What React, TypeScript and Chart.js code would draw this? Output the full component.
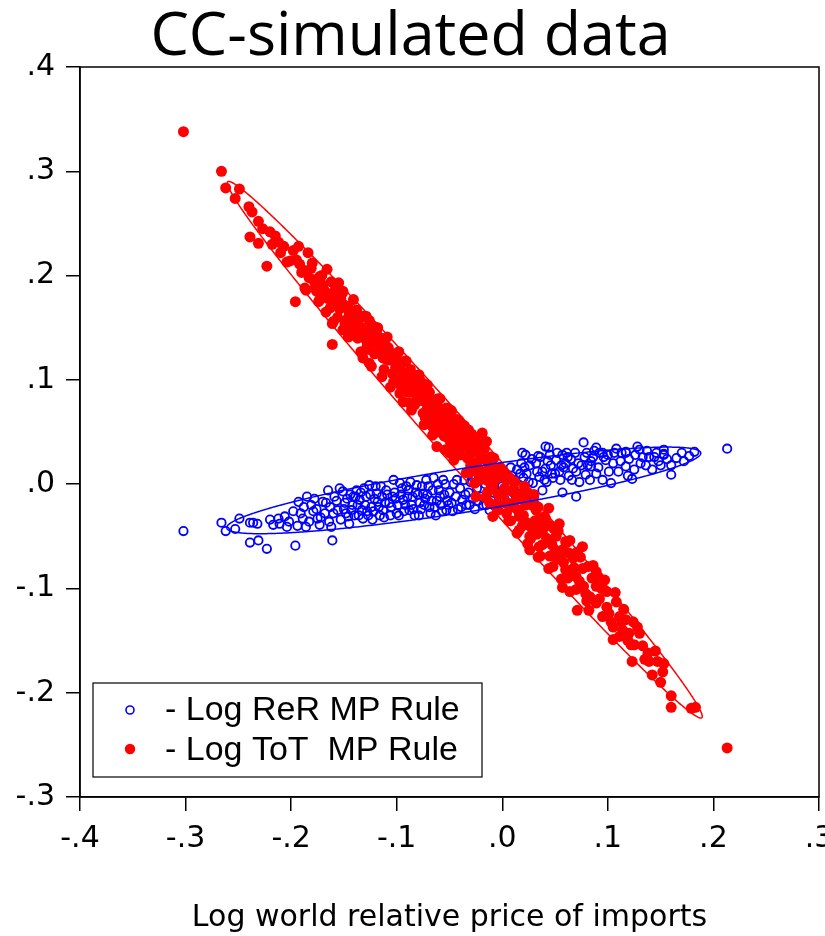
import React, { useEffect, useRef } from "react";
import { Chart, registerables } from "chart.js";

Chart.register(...registerables);

const TITLE = "CC-simulated data";
const X_TITLE = "Log world relative price of imports";
const X_MIN = -0.4;
const X_MAX = 0.3;
const Y_MIN = -0.3;
const Y_MAX = 0.4;
const TICK_STEP = 0.1;

const RER_LABEL = "- Log ReR MP Rule";
const TOT_LABEL = "- Log ToT  MP Rule";
const BLUE = "#0000FF";
const RED = "#FF0000";

// (log world relative price of imports, - log ReR) under the ReR MP rule
const rerPoints: [number, number][] = [
  [-0.302,-0.045],[-0.266,-0.037],[-0.262,-0.045],[-0.253,-0.043],[-0.249,-0.033],[-0.239,-0.037],[-0.236,-0.037],[-0.232,-0.038],[-0.239,-0.056],[-0.231,-0.054],[-0.223,-0.062],[-0.220,-0.034],[-0.217,-0.039],[-0.212,-0.033],[-0.211,-0.038],[-0.206,-0.031],[-0.204,-0.041],[-0.202,-0.036],[-0.196,-0.059],[-0.193,-0.017],[-0.191,-0.028],[-0.189,-0.033],[-0.186,-0.041],[-0.185,-0.012],[-0.181,-0.020],[-0.179,-0.026],[-0.175,-0.033],[-0.173,-0.039],[-0.170,-0.017],[-0.168,-0.028],[-0.165,-0.006],[-0.163,-0.022],[-0.161,-0.054],[-0.162,-0.041],[-0.159,-0.012],[-0.156,-0.025],[-0.154,-0.004],[-0.151,-0.007],[-0.149,-0.018],[-0.146,-0.031],[-0.143,-0.025],[-0.141,-0.012],
  [-0.138,-0.006],[-0.135,-0.015],[-0.133,-0.025],[-0.132,-0.033],[-0.129,-0.012],[-0.126,-0.001],[-0.124,-0.022],[-0.123,-0.034],[-0.119,-0.009],[-0.118,-0.017],[-0.113,-0.025],[-0.110,-0.006],[-0.107,-0.018],[-0.104,-0.012],[-0.100,-0.028],[-0.097,0.001],[-0.094,-0.015],[-0.091,-0.002],[-0.088,-0.025],[-0.085,-0.012],[-0.081,-0.001],[-0.078,-0.018],[-0.075,-0.009],[-0.072,0.004],[-0.069,-0.022],[-0.066,-0.006],[-0.063,-0.030],[-0.059,-0.012],[-0.056,0.004],[-0.053,-0.025],
  [-0.148,-0.028],[-0.144,-0.010],[-0.140,-0.030],[-0.137,-0.020],[-0.131,-0.004],[-0.128,-0.026],[-0.121,-0.014],[-0.116,-0.030],[-0.115,-0.002],[-0.111,-0.018],[-0.106,-0.030],[-0.102,-0.008],[-0.099,-0.020],[-0.096,-0.010],[-0.093,-0.026],[-0.089,-0.006],[-0.086,-0.020],[-0.083,-0.030],[-0.080,-0.010],[-0.077,-0.024],[-0.073,-0.014],[-0.070,-0.002],[-0.067,-0.016],[-0.064,-0.022],[-0.061,0.000],[-0.058,-0.020],[-0.055,-0.010],[-0.052,-0.016],
  [-0.050,-0.008],[-0.048,-0.018],[-0.046,0.000],[-0.044,-0.012],[-0.042,-0.024],[-0.040,-0.004],[-0.038,-0.015],[-0.036,0.004],[-0.034,-0.020],[-0.032,-0.008],[-0.030,0.002],[-0.028,-0.014],[-0.026,-0.024],[-0.024,-0.004],[-0.022,0.006],[-0.020,-0.012],[-0.018,-0.020],[-0.016,0.000],[-0.014,-0.008],[-0.012,0.010],[-0.010,-0.016],[-0.008,-0.004],[-0.006,0.006],[-0.004,-0.010],[-0.002,0.012],[0.000,-0.002],[0.002,-0.014],[0.004,0.008],[0.006,0.000],[0.008,0.016],[0.010,-0.008],[0.012,0.004],[0.014,0.014],[0.018,0.020],[0.020,0.006],[0.026,0.018],[0.032,0.020],[0.038,0.012],[0.042,0.002],[0.046,0.018],[0.050,0.010],[0.055,0.004],[0.058,0.016],[0.063,0.008],[0.065,0.024],[0.070,0.012],[0.075,0.018],[0.080,0.030],[0.086,0.026],[0.100,0.028],[0.110,0.012],[0.120,0.024],[0.125,0.014],[0.133,0.026],[0.148,0.022],[0.165,0.025],[0.170,0.030],
  [0.022,0.028],[0.034,0.027],[0.044,0.035],[0.061,0.030],[0.077,0.040],[0.089,0.035],[0.095,0.030],[0.108,0.034],[0.117,0.031],[0.128,0.036],[0.130,0.033],[0.139,0.026],[0.146,0.030],[0.153,0.033],[0.153,0.029],[0.160,0.018],[0.160,0.009],[0.177,0.027],[0.182,0.031],[0.213,0.034],[0.123,0.005],[0.142,0.014],[0.136,0.018],[0.117,0.017],[0.112,0.022],[0.105,0.020],[0.103,0.001],[0.095,0.004],[0.089,0.010],[0.084,0.017],[0.079,0.009],[0.073,0.002],[0.070,-0.012],[0.057,-0.008],[0.078,0.026],[0.084,0.022],[0.092,0.030],[0.098,0.023],[0.067,0.015],[0.060,0.020],[0.054,0.012],[0.048,0.006],[0.041,0.015],[0.035,0.007],[0.029,0.001],[0.023,0.010],[0.016,-0.001],[0.038,-0.006],[0.030,-0.012],[0.024,-0.009],[0.051,0.023],[0.045,0.028],[0.057,0.028],[0.117,0.030],[0.153,0.028],[0.019,0.030],[0.041,0.036],[-0.012,-0.025],[0.029,-0.015],
  [-0.198,-0.026],[-0.194,-0.040],[-0.188,-0.022],[-0.183,-0.036],[-0.178,-0.014],[-0.176,-0.024],[-0.172,-0.032],[-0.167,-0.018],[-0.164,-0.036],[-0.160,-0.028],[-0.157,-0.016],[-0.153,-0.034],[-0.150,-0.024],[-0.147,-0.014],[-0.145,-0.038],[-0.142,-0.020],[-0.139,-0.012],[-0.136,-0.030],[-0.134,-0.008],[-0.130,-0.020],[-0.127,-0.030],[-0.125,-0.010],[-0.122,-0.026],[-0.120,-0.002],[-0.117,-0.022],[-0.114,-0.012],[-0.112,-0.032],[-0.109,-0.010],[-0.105,-0.022],[-0.103,0.004],[-0.101,-0.014],[-0.098,-0.030],[-0.095,-0.004],[-0.092,-0.020],[-0.090,-0.012],[-0.087,0.002],[-0.084,-0.024],[-0.082,-0.008],[-0.079,-0.030],[-0.076,-0.002],[-0.074,-0.020],[-0.071,-0.010],[-0.068,-0.028],[-0.065,0.006],[-0.062,-0.016],[-0.060,-0.006],[-0.057,-0.026],[-0.054,0.000],[-0.051,-0.020],[-0.047,-0.026],[-0.043,0.004],[-0.039,-0.022],[-0.035,-0.010],[-0.031,-0.020],[-0.027,0.006],[-0.023,-0.016],[-0.019,0.010],[-0.015,-0.020],[-0.011,0.002],[-0.007,0.014],[-0.003,-0.016],[0.001,0.008],[0.005,-0.006],[0.009,0.008],[0.013,-0.012],[0.017,0.010],[0.021,0.016],[0.025,0.002],[0.028,0.024],[0.033,0.012],[0.036,0.026],[0.040,0.004],[0.043,0.022],[0.047,0.010],[0.052,0.030],[0.056,0.018],[0.062,0.026],[0.066,0.004],[0.069,0.030],[0.072,0.020],[0.081,0.018],[0.083,0.004],[0.087,0.032],[0.091,0.016],[0.096,0.026],[0.101,0.012],[0.106,0.030],[0.113,0.030],[0.119,0.008],[0.126,0.028],[0.131,0.020],[0.137,0.032],[0.144,0.026],[0.150,0.018],[0.156,0.024],[0.172,0.022],
];

// (log world relative price of imports, - log ToT) under the ToT MP rule
const totPoints: [number, number][] = [
  [-0.302,0.338],[-0.266,0.300],[-0.262,0.284],[-0.249,0.283],[-0.253,0.274],[-0.240,0.266],[-0.237,0.261],[-0.231,0.252],[-0.239,0.237],[-0.220,0.242],[-0.231,0.231],[-0.218,0.230],[-0.212,0.232],[-0.207,0.228],[-0.223,0.209],[-0.193,0.228],[-0.184,0.222],[-0.204,0.213],[-0.201,0.214],[-0.192,0.211],[-0.190,0.203],[-0.181,0.207],[-0.166,0.206],[-0.196,0.175],[-0.186,0.186],[-0.179,0.196],[-0.173,0.199],[-0.170,0.191],[-0.162,0.194],[-0.155,0.193],[-0.151,0.184],[-0.174,0.175],[-0.163,0.169],[-0.160,0.183],[-0.138,0.167],[-0.145,0.164],[-0.161,0.154],[-0.151,0.148],[-0.132,0.161],[-0.126,0.157],[-0.135,0.151],[-0.119,0.145],[-0.145,0.142],[-0.161,0.134],[-0.111,0.133],[-0.129,0.138],
  [-0.187,0.188],[-0.173,0.177],[-0.167,0.165],[-0.160,0.156],[-0.149,0.153],[-0.141,0.164],[-0.135,0.148],[-0.132,0.121],[-0.126,0.129],[-0.124,0.113],[-0.113,0.121],[-0.107,0.119],[-0.094,0.117],[-0.104,0.106],[-0.097,0.100],[-0.091,0.106],[-0.097,0.087],[-0.085,0.097],[-0.078,0.100],[-0.088,0.078],[-0.081,0.084],[-0.072,0.087],[-0.069,0.074],[-0.075,0.068],[-0.062,0.078],[-0.053,0.073],[-0.059,0.062],[-0.066,0.055],[-0.053,0.055],[-0.047,0.062],[-0.044,0.049],[-0.062,0.036],[-0.050,0.042],[-0.037,0.046],[-0.034,0.036],[-0.028,0.039],[-0.019,0.049],[-0.015,0.041],[-0.044,0.033],[-0.031,0.030],[-0.022,0.033],[-0.022,0.023],
  [-0.072,0.058],[-0.040,0.049],[-0.050,0.030],[-0.031,0.011],[-0.022,0.014],[-0.015,0.004],[-0.006,0.014],[-0.009,-0.002],[0.004,0.004],[0.001,-0.009],[0.010,-0.007],[0.021,-0.002],[0.013,-0.015],[0.023,-0.018],[-0.009,-0.031],[0.004,-0.028],[0.016,-0.031],[0.032,-0.025],[0.035,-0.034],[0.016,-0.044],[0.029,-0.044],[-0.025,-0.012],[-0.012,-0.018],
  [0.023,-0.037],[0.034,-0.022],[0.044,-0.023],[0.026,-0.050],[0.038,-0.046],[0.026,-0.063],[0.035,-0.060],[0.051,-0.050],[0.060,-0.055],[0.076,-0.060],[0.034,-0.070],[0.045,-0.069],[0.057,-0.063],[0.067,-0.071],[0.048,-0.079],[0.060,-0.082],[0.076,-0.081],[0.070,-0.089],[0.089,-0.084],[0.057,-0.099],[0.070,-0.101],[0.079,-0.105],[0.089,-0.098],[0.094,-0.100],[0.071,-0.121],[0.082,-0.121],[0.089,-0.114],[0.108,-0.113],[0.095,-0.127],[0.101,-0.124],[0.111,-0.127],[0.117,-0.130],[0.105,-0.137],[0.114,-0.140],[0.105,-0.149],[0.111,-0.146],[0.120,-0.143],[0.128,-0.137],[0.130,-0.143],[0.122,-0.154],[0.125,-0.154],[0.123,-0.170],[0.138,-0.162],[0.139,-0.170],[0.147,-0.170],[0.153,-0.172],[0.152,-0.180],[0.142,-0.183],[0.160,-0.203],[0.160,-0.214],[0.179,-0.215],[0.183,-0.214],[0.213,-0.253],
  [-0.122,0.139],[-0.117,0.128],[-0.115,0.140],[-0.110,0.120],[-0.108,0.131],[-0.104,0.124],[-0.101,0.112],[-0.099,0.126],[-0.095,0.108],[-0.092,0.118],[-0.090,0.095],[-0.087,0.110],[-0.084,0.090],[-0.082,0.104],[-0.079,0.092],[-0.076,0.080],[-0.074,0.096],[-0.071,0.073],[-0.069,0.088],[-0.066,0.066],[-0.065,0.080],[-0.062,0.070],[-0.059,0.082],[-0.057,0.058],[-0.056,0.068],[-0.052,0.064],[-0.050,0.052],[-0.048,0.070],[-0.046,0.045],[-0.045,0.056],[-0.042,0.040],[-0.041,0.058],[-0.039,0.036],[-0.038,0.052],[-0.035,0.044],[-0.033,0.025],[-0.032,0.052],[-0.029,0.030],[-0.027,0.020],[-0.026,0.044],[-0.024,0.012],[-0.020,0.026],[-0.018,0.010],[-0.017,0.034],[-0.013,0.018],[-0.011,0.000],[-0.008,0.025],[-0.006,0.005],[-0.004,-0.010],[-0.002,0.016],[0.002,-0.004],[0.005,-0.018],[0.007,0.006],[0.009,-0.022],[0.011,-0.005],[0.015,-0.025],[0.018,-0.010],[0.020,-0.030],[0.024,-0.008],[0.026,-0.040],[0.028,-0.020],[0.031,-0.035],[0.033,-0.048],[0.036,-0.040],[0.040,-0.031],[0.042,-0.052],[0.046,-0.040],[0.050,-0.063],[0.053,-0.045],[0.055,-0.070],[0.058,-0.075],[0.063,-0.066],[0.065,-0.085],[0.073,-0.093],[0.085,-0.090],[0.080,-0.112],[0.099,-0.118],[0.115,-0.120],
  [-0.158,0.175],[-0.154,0.168],[-0.150,0.172],[-0.147,0.158],[-0.143,0.150],[-0.140,0.155],[-0.137,0.140],[-0.134,0.160],[-0.130,0.146],[-0.128,0.132],[-0.124,0.150],[-0.120,0.136],[-0.168,0.185],[-0.177,0.190],[-0.183,0.198],[-0.195,0.215],[-0.210,0.222],[-0.215,0.238],[-0.227,0.245],
  [-0.198,0.224],[-0.188,0.205],[-0.180,0.212],[-0.176,0.185],[-0.171,0.200],[-0.165,0.178],[-0.158,0.188],[-0.156,0.160],[-0.153,0.178],[-0.146,0.170],[-0.142,0.143],[-0.139,0.162],[-0.133,0.150],[-0.127,0.145],[-0.121,0.125],[-0.118,0.150],[-0.114,0.130],[-0.112,0.110],[-0.106,0.126],[-0.103,0.098],[-0.100,0.118],[-0.096,0.094],[-0.093,0.104],[-0.089,0.088],[-0.086,0.102],[-0.083,0.076],[-0.080,0.096],[-0.077,0.088],[-0.073,0.064],[-0.070,0.082],[-0.067,0.076],[-0.064,0.060],[-0.061,0.050],[-0.058,0.072],[-0.055,0.046],[-0.051,0.060],[-0.049,0.036],[-0.043,0.062],[-0.040,0.028],[-0.036,0.056],[-0.030,0.018],[-0.025,0.036],[-0.021,0.004],[-0.016,0.024],[-0.014,-0.008],[-0.010,0.012],[-0.005,-0.020],[0.000,0.008],[0.003,-0.018],[0.008,-0.035],[0.012,0.002],[0.014,-0.024],[0.019,-0.040],[0.022,-0.020],[0.027,-0.052],[0.030,-0.010],[0.038,-0.058],[0.041,-0.040],[0.047,-0.058],[0.052,-0.072],[0.054,-0.038],[0.062,-0.090],[0.064,-0.054],[0.068,-0.080],[0.074,-0.070],[0.077,-0.098],[0.083,-0.108],[0.086,-0.078],[0.092,-0.110],[0.097,-0.092],[0.103,-0.132],[0.107,-0.104],[0.113,-0.132],[0.119,-0.150],[0.124,-0.132],[0.133,-0.155],[0.135,-0.168],[0.145,-0.160],[0.150,-0.190],
  [-0.151,0.185],[-0.141,0.177],[-0.129,0.161],[-0.121,0.151],[-0.109,0.141],[-0.098,0.127],[-0.091,0.118],[-0.079,0.105],[-0.071,0.095],[-0.061,0.082],[-0.049,0.071],[-0.041,0.061],[-0.029,0.048],[-0.021,0.038],[-0.011,0.026],[0.001,0.012],[0.011,0.002],[0.019,-0.011],[0.031,-0.020],[0.041,-0.033],[0.049,-0.043],[0.061,-0.056],[0.071,-0.065],[0.081,-0.079],[0.091,-0.089],[0.099,-0.103],
  [-0.146,0.141],[-0.134,0.127],[-0.126,0.116],[-0.114,0.103],[-0.106,0.093],[-0.094,0.079],[-0.086,0.071],[-0.074,0.057],[-0.066,0.047],[-0.054,0.033],[-0.046,0.023],[-0.034,0.011],[-0.026,0.001],[-0.016,-0.013],[-0.004,-0.025],[0.006,-0.035],[0.014,-0.047],[0.024,-0.057],[0.036,-0.069],[0.044,-0.081],[0.056,-0.091],[0.064,-0.103],
];

// Confidence ellipses in data units: centre, semi-major vector, semi-minor vector
const rerEllipse = { cx: -0.0365, cy: -0.006, ax: 0.2245, ay: 0.036, bx: 0.0032, by: -0.0207 };
const totEllipse = { cx: -0.0355, cy: 0.033, ax: 0.2245, ay: -0.257, bx: 0.0138, by: 0.0124 };

const TICK_FONT = { family: '"DejaVu Sans", sans-serif', size: 30 };
const LEGEND_FONT = '34px "Liberation Sans", Arial, sans-serif';

const fmtTick = (v: number | string) => {
  const n = Number(v);
  if (Math.abs(n) < 1e-9) return ".0";
  return n.toFixed(1).replace("0.", ".");
};

type Ell = { cx: number; cy: number; ax: number; ay: number; bx: number; by: number };

const overlayPlugin = {
  id: "overlay",
  afterDatasetsDraw(chart: any) {
    const ctx = chart.ctx as CanvasRenderingContext2D;
    const xs = chart.scales.x;
    const ys = chart.scales.y;
    const drawEllipse = (e: Ell, color: string) => {
      ctx.save();
      ctx.beginPath();
      const steps = 720;
      for (let i = 0; i <= steps; i++) {
        const t = (i / steps) * Math.PI * 2;
        const dx = e.cx + Math.cos(t) * e.ax + Math.sin(t) * e.bx;
        const dy = e.cy + Math.cos(t) * e.ay + Math.sin(t) * e.by;
        const px = xs.getPixelForValue(dx);
        const py = ys.getPixelForValue(dy);
        if (i === 0) ctx.moveTo(px, py);
        else ctx.lineTo(px, py);
      }
      ctx.closePath();
      ctx.strokeStyle = color;
      ctx.lineWidth = 1.5;
      ctx.stroke();
      ctx.restore();
    };
    drawEllipse(totEllipse, RED);
    drawEllipse(rerEllipse, BLUE);
  },
  afterDraw(chart: any) {
    const ctx = chart.ctx as CanvasRenderingContext2D;
    const a = chart.chartArea;
    ctx.save();
    ctx.strokeStyle = "#000";
    ctx.lineWidth = 1.5;
    ctx.strokeRect(a.left, a.top, a.right - a.left, a.bottom - a.top);

    const lx = a.left + 13;
    const ly = a.bottom - 114;
    const lw = 389;
    const lh = 94;
    ctx.fillStyle = "#fff";
    ctx.fillRect(lx, ly, lw, lh);
    ctx.lineWidth = 1.2;
    ctx.strokeStyle = "#000";
    ctx.strokeRect(lx, ly, lw, lh);

    ctx.beginPath();
    ctx.arc(lx + 37, ly + 27, 4, 0, Math.PI * 2);
    ctx.strokeStyle = BLUE;
    ctx.lineWidth = 1.6;
    ctx.stroke();
    ctx.beginPath();
    ctx.arc(lx + 37, ly + 66, 5.2, 0, Math.PI * 2);
    ctx.fillStyle = RED;
    ctx.fill();

    ctx.fillStyle = "#000";
    ctx.font = LEGEND_FONT;
    ctx.textAlign = "left";
    ctx.textBaseline = "alphabetic";
    ctx.fillText(RER_LABEL, lx + 72, ly + 37);
    ctx.fillText(TOT_LABEL, lx + 72, ly + 77);
    ctx.restore();
  },
};

export default function App() {
  const ref = useRef<HTMLCanvasElement | null>(null);

  useEffect(() => {
    if (!ref.current) return;
    const chart = new Chart(ref.current, {
      type: "scatter",
      data: {
        datasets: [
          {
            label: TOT_LABEL,
            data: totPoints.map(([x, y]) => ({ x, y })),
            pointStyle: "circle",
            pointRadius: 5.5,
            pointBorderWidth: 0,
            pointBackgroundColor: RED,
            pointBorderColor: RED,
            order: 0,
          },
          {
            label: RER_LABEL,
            data: rerPoints.map(([x, y]) => ({ x, y })),
            pointStyle: "circle",
            pointRadius: 4.2,
            pointBorderWidth: 1.8,
            pointBackgroundColor: "rgba(0,0,0,0)",
            pointBorderColor: BLUE,
            order: 1,
          },
        ],
      },
      options: {
        responsive: false,
        animation: false,
        devicePixelRatio: 1,
        events: [],
        layout: { padding: { top: 0, right: 4, left: 0, bottom: 0 } },
        plugins: {
          legend: { display: false },
          tooltip: { enabled: false },
          title: {
            display: true,
            text: TITLE,
            color: "#000",
            font: { family: '"Open Sans", sans-serif', size: 61, weight: "normal", lineHeight: "59px" },
            padding: { top: 8, bottom: 0 },
          },
        },
        scales: {
          x: {
            type: "linear",
            min: X_MIN,
            max: X_MAX,
            ticks: {
              stepSize: TICK_STEP,
              callback: fmtTick,
              font: TICK_FONT,
              color: "#000",
              padding: 10,
              maxRotation: 0,
              autoSkip: false,
            },
            grid: {
              display: true,
              drawOnChartArea: false,
              drawTicks: true,
              tickLength: 14,
              color: "#000",
              lineWidth: 1.5,
            },
            border: { display: true, color: "#000", width: 1.5 },
            title: {
              display: true,
              text: X_TITLE,
              color: "#000",
              font: TICK_FONT,
              padding: { top: 0, bottom: 0 },
            },
            afterFit: (s: any) => {
              s.height = 139;
              s.paddingLeft = 0;
              s.paddingRight = 0;
            },
          },
          y: {
            type: "linear",
            min: Y_MIN,
            max: Y_MAX,
            ticks: {
              stepSize: TICK_STEP,
              callback: fmtTick,
              font: TICK_FONT,
              color: "#000",
              padding: 11,
              autoSkip: false,
            },
            grid: {
              display: true,
              drawOnChartArea: false,
              drawTicks: true,
              tickLength: 14,
              color: "#000",
              lineWidth: 1.5,
            },
            border: { display: true, color: "#000", width: 1.5 },
            afterFit: (s: any) => {
              s.width = 80;
              s.paddingTop = 0;
              s.paddingBottom = 0;
            },
          },
        },
      },
      plugins: [overlayPlugin],
    });
    return () => chart.destroy();
  }, []);

  return (
    <div style={{ position: "absolute", left: 0, top: 0, width: 825, height: 936, background: "#fff" }}>
      <canvas ref={ref} width={825} height={936} style={{ display: "block" }} />
    </div>
  );
}
